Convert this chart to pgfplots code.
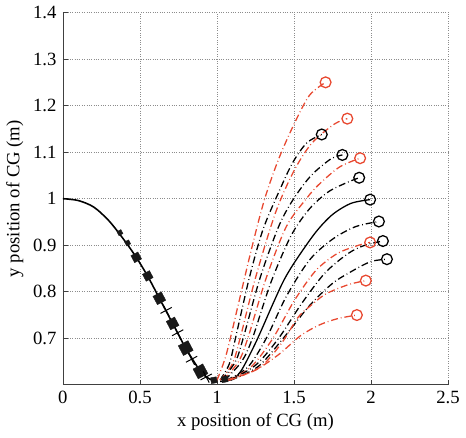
\documentclass[border=0pt]{standalone}
\usepackage{fontspec}
\setmainfont{Liberation Serif}
\usepackage{pgfplots}
\pgfplotsset{compat=1.18}
\definecolor{mred}{RGB}{232,72,48}
\begin{document}
\fontsize{19}{22}\selectfont
\begin{tikzpicture}
\begin{axis}[
 width=390bp, height=377bp, scale only axis,
 xmin=0, xmax=2.5, ymin=0.6, ymax=1.4,
 xtick={0,0.5,1,1.5,2,2.5},
 ytick={0.7,0.8,0.9,1,1.1,1.2,1.3,1.4},
 /pgf/number format/assume math mode=true,
 ticklabel style={font=\fontsize{19}{21}\selectfont},
 label style={font=\fontsize{19}{21}\selectfont},
 axis lines*=left, tick align=inside,
 major tick length=5bp,
 axis line style={black!75, line width=0.8pt},
 tick style={black!75, line width=0.6pt},
 grid=major, grid style={dotted, black!45, line width=0.7pt},
 xlabel={x position of CG (m)},
 ylabel={y position of CG (m)},
 xlabel style={yshift=3bp},
 ylabel style={yshift=-3bp},
 clip=false,
]
% descending (stance) curve
\addplot[black, line width=1.6pt, smooth] coordinates {
 (0,1.0) (0.1,0.996) (0.2,0.982) (0.3,0.952) (0.4,0.910) (0.476,0.874) (0.551,0.833)
 (0.626,0.786) (0.712,0.732) (0.797,0.679) (0.893,0.629) (0.95,0.613) (1.0,0.607)};
\addplot[only marks, mark=square*, black!90, mark options={rotate=28}, mark size=2.3pt] coordinates {(0.37,0.927) (0.42,0.905)};
\addplot[only marks, mark=square*, black!90, mark options={rotate=28}, mark size=4pt] coordinates {(0.476,0.874) (0.551,0.834)};
\addplot[only marks, mark=square*, black!90, mark options={rotate=28}, mark size=4.8pt] coordinates {(0.626,0.786) (0.712,0.732)};
\addplot[only marks, mark=square*, black!90, mark options={rotate=28}, mark size=5.6pt] coordinates {(0.797,0.679) (0.893,0.629)};
\addplot[only marks, mark=+, black, mark options={rotate=28, line width=1pt}, mark size=6.5pt] coordinates {(0.67,0.760) (0.745,0.712) (0.835,0.655) (0.93,0.617)};
\addplot[only marks, mark=square*, black!90, mark options={rotate=10}, mark size=3pt] coordinates {(0.98,0.61) (1.05,0.612)};

% fan of flight trajectories
\pgfplotsset{dd/.style={line width=1.3pt, smooth, dash pattern=on 7pt off 3pt on 0.8pt off 3pt}}
\addplot[dd, mred] coordinates {(1.00,0.61) (1.06,0.665) (1.14,0.775) (1.23,0.90) (1.31,1.00) (1.40,1.085) (1.50,1.16) (1.60,1.222) (1.705,1.25)};
\addplot[dd, black] coordinates {(1.02,0.61) (1.08,0.645) (1.12,0.70) (1.21,0.83) (1.30,0.935) (1.417,1.026) (1.494,1.079) (1.583,1.12) (1.68,1.138)};
\addplot[dd, mred] coordinates {(1.02,0.61) (1.10,0.645) (1.15,0.70) (1.25,0.83) (1.38,0.97) (1.50,1.06) (1.615,1.119) (1.76,1.16) (1.846,1.172)};
\addplot[dd, black] coordinates {(1.03,0.61) (1.12,0.65) (1.17,0.70) (1.28,0.83) (1.40,0.94) (1.494,0.998) (1.609,1.049) (1.737,1.085) (1.814,1.094)};
\addplot[dd, mred] coordinates {(1.04,0.61) (1.14,0.65) (1.20,0.70) (1.32,0.83) (1.45,0.94) (1.58,1.0) (1.66,1.03) (1.795,1.068) (1.929,1.087)};
\addplot[dd, black] coordinates {(1.05,0.61) (1.16,0.65) (1.23,0.70) (1.35,0.82) (1.48,0.92) (1.60,0.978) (1.724,1.015) (1.853,1.036) (1.923,1.045)};
\addplot[black, line width=1.3pt, smooth] coordinates {(1.02,0.607) (1.10,0.612) (1.16,0.632) (1.256,0.694) (1.363,0.774) (1.436,0.826) (1.513,0.868) (1.641,0.928) (1.75,0.966) (1.87,0.990) (1.994,0.998)};
\addplot[dd, black] coordinates {(1.06,0.61) (1.20,0.638) (1.32,0.70) (1.45,0.79) (1.60,0.868) (1.75,0.913) (1.90,0.940) (2.051,0.951)};
\addplot[dd, mred] coordinates {(1.07,0.61) (1.22,0.638) (1.363,0.70) (1.50,0.78) (1.64,0.845) (1.78,0.882) (1.92,0.90) (1.994,0.906)};
\addplot[dd, black] coordinates {(1.08,0.61) (1.25,0.642) (1.40,0.70) (1.55,0.775) (1.70,0.84) (1.85,0.882) (1.96,0.90) (2.077,0.909)};
\addplot[dd, black] coordinates {(1.09,0.61) (1.27,0.64) (1.43,0.70) (1.60,0.77) (1.75,0.818) (1.88,0.845) (2.00,0.865) (2.103,0.870)};
\addplot[dd, mred] coordinates {(1.08,0.61) (1.28,0.638) (1.42,0.69) (1.526,0.745) (1.60,0.768) (1.705,0.795) (1.85,0.815) (1.966,0.824)};
\addplot[dd, mred] coordinates {(1.06,0.61) (1.24,0.63) (1.40,0.665) (1.54,0.705) (1.66,0.728) (1.78,0.742) (1.908,0.750)};

% end markers
\addplot[only marks, mark=o, mred, mark size=5.5pt, mark options={solid, line width=1.3pt}] coordinates {
 (1.705,1.25) (1.846,1.172) (1.929,1.087) (1.994,0.906) (1.966,0.824) (1.908,0.750)};
\addplot[only marks, mark=o, black, mark size=5.5pt, mark options={solid, line width=1.3pt}] coordinates {
 (1.68,1.138) (1.814,1.094) (1.923,1.045) (1.994,0.998) (2.051,0.951) (2.077,0.909) (2.103,0.870)};
\end{axis}
\end{tikzpicture}
\end{document}
